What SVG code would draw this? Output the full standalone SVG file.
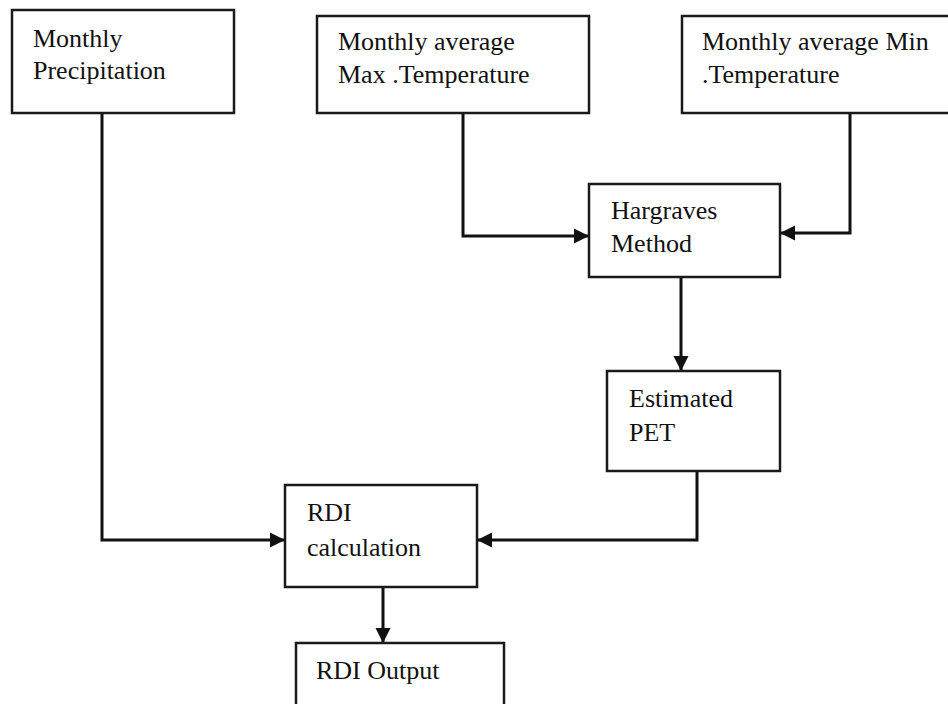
<svg xmlns="http://www.w3.org/2000/svg" width="948" height="704" viewBox="0 0 948 704">
<style>
.box{fill:#fff;stroke:#1a1a1a;stroke-width:2.5}
.t{font-family:"Liberation Serif","Times New Roman",serif;font-size:26px;fill:#111}
.c{fill:none;stroke:#111;stroke-width:3;marker-end:url(#ah)}
</style>
<defs>
<marker id="ah" markerUnits="userSpaceOnUse" markerWidth="16" markerHeight="16" viewBox="0 0 16 16" refX="15" refY="8" orient="auto">
<path d="M0,0.5 L15,8 L0,15.5 Z" fill="#111"/>
</marker>
</defs>
<rect width="948" height="704" fill="#fff"/>
<g id="connectors">
<path class="c" d="M102,113 V540 H285"/>
<path class="c" d="M463,113 V236 H589"/>
<path class="c" d="M850,113 V233 H780"/>
<path class="c" d="M681,277 V371"/>
<path class="c" d="M697,471 V540 H477"/>
<path class="c" d="M383,587 V643"/>
</g>
<g id="precip">
<rect class="box" x="12" y="10" width="222" height="103"/>
<text class="t" x="33" y="47">Monthly</text>
<text class="t" x="33" y="79">Precipitation</text>
</g>
<g id="maxtemp">
<rect class="box" x="317" y="16" width="272" height="97"/>
<text class="t" x="338" y="50">Monthly average</text>
<text class="t" x="338" y="83">Max .Temperature</text>
</g>
<g id="mintemp">
<rect class="box" x="682" y="16" width="270" height="97"/>
<text class="t" x="702" y="50">Monthly average Min</text>
<text class="t" x="702" y="83">.Temperature</text>
</g>
<g id="hargraves">
<rect class="box" x="589" y="184" width="191" height="93"/>
<text class="t" x="611" y="219">Hargraves</text>
<text class="t" x="611" y="252">Method</text>
</g>
<g id="pet">
<rect class="box" x="607" y="371" width="173" height="100"/>
<text class="t" x="629" y="407">Estimated</text>
<text class="t" x="629" y="441">PET</text>
</g>
<g id="rdicalc">
<rect class="box" x="285" y="485" width="192" height="102"/>
<text class="t" x="307" y="521">RDI</text>
<text class="t" x="307" y="556">calculation</text>
</g>
<g id="rdiout">
<rect class="box" x="296" y="643" width="208" height="70"/>
<text class="t" x="316" y="679">RDI Output</text>
</g>
</svg>
